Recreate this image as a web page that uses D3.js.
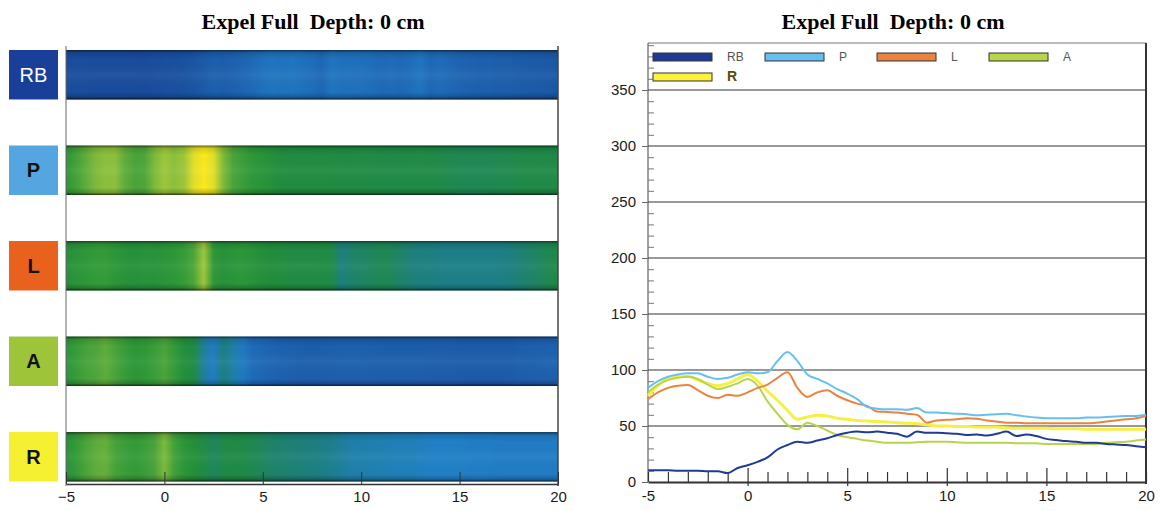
<!DOCTYPE html>
<html lang="en">
<head>
<meta charset="UTF-8">
<title>Expel Full Depth</title>
<script src="https://d3js.org/d3.v7.min.js"></script>
<style>
  body { margin: 0; background: #fff; }
  text { font-family: "Liberation Sans", Arial, sans-serif; }
  .title { font-family: "Liberation Serif", "Times New Roman", serif; font-weight: bold; font-size: 22px; white-space: pre; }
</style>
</head>
<body>
<script>
// position along the probe (cm) and the five readings
const xs = [-5, -4.5, -4, -3.5, -3, -2.5, -2, -1.5, -1, -0.5, 0, 0.5, 1, 1.5, 2, 2.5, 3, 3.5, 4, 4.5,
            5, 5.5, 6, 6.5, 7, 7.5, 8, 8.5, 9, 9.5, 10, 10.5, 11, 11.5, 12, 12.5, 13, 13.5, 14, 14.5,
            15, 15.5, 16, 16.5, 17, 17.5, 18, 18.5, 19, 19.5, 20];
const rb = [10.5, 10.5, 10.5, 10, 10, 10, 9.5, 9.5, 8, 12.5, 15, 18, 22, 29, 33, 36, 35, 37, 39, 42,
            44, 45, 44.5, 45, 44, 43, 40.5, 45, 44, 44, 43.5, 43, 42, 42.5, 41.5, 43, 45, 41, 42.5, 41,
            38.5, 37.5, 36.5, 36, 35, 35, 34, 33.5, 33, 32, 31];
const p = [84, 90, 94, 96, 97, 97, 94, 92, 93, 96, 98, 97, 98, 108, 116, 108, 96, 92, 88, 83,
           79, 74, 67, 65.5, 65, 65, 64.5, 66, 62, 62, 61.5, 61, 60.5, 59.5, 60, 60.5, 61, 59.5, 58.5, 57.5,
           57, 57, 57, 57, 57.5, 57.5, 58, 58.5, 59, 59, 60];
const l = [74, 80, 84, 86, 86.5, 82, 77, 75, 78, 77, 80, 84, 87, 93, 98, 84, 76, 80, 82, 77,
           73, 70, 68, 63, 62.5, 62, 61, 60, 53, 55, 55.5, 56, 57, 56.5, 55, 54, 53, 53, 52.5, 52.5,
           52.5, 52.5, 52.5, 52.5, 52.5, 53, 54, 55, 56, 57, 59];
const a = [80, 87, 91, 93, 94, 92, 87, 83, 85, 88, 92, 86, 72, 61, 51, 47, 53, 50, 46, 42,
           40, 38.5, 37, 36, 35, 35, 35, 35.5, 36, 36, 36, 35.5, 35, 35, 35, 35, 35, 34.5, 34.5, 34.5,
           34, 34, 34, 34, 34, 34, 35, 35.5, 36, 37, 38];
const r = [77, 86, 92, 94, 94.5, 91, 88, 86, 88, 92, 96, 90, 81, 73, 64, 56, 58, 59.5, 59, 57,
           56, 55, 54.5, 54, 53.5, 53, 52.5, 52, 51, 50, 50, 49.5, 49.5, 49, 49, 49, 48.5, 48, 48, 48,
           48, 47.5, 47.5, 47.5, 47, 47, 47, 47, 47, 47, 47];
const names = ["RB", "P", "L", "A", "R"];
const xTicks = [-5, 0, 5, 10, 15, 20];
const yTicks = [0, 50, 100, 150, 200, 250, 300, 350];

const seriesData = { RB: rb, P: p, L: l, A: a, R: r };
const labelFill = { RB: "#1a3f98", P: "#55a6e0", L: "#e8621e", A: "#9ec53a", R: "#f6f032" };
const labelText = { RB: "#fff", P: "#111", L: "#111", A: "#111", R: "#111" };
const lineColor = { RB: "#1f3c94", P: "#66c0ef", L: "#e8843f", A: "#b8d54a", R: "#f6ef44" };

// value -> colour used for the strips
const heat = d3.scaleLinear()
    .domain([0, 30, 42, 48, 53, 58, 70, 85, 93, 97, 100, 115])
    .range(["#18489a", "#1a55a3", "#1e6ab8", "#2080c6", "#1c7f80", "#1f8a48", "#218d3c",
            "#2e9938", "#4ea63a", "#8cc03c", "#c2d63a", "#fce81a"])
    .clamp(true);

const svg = d3.select("body").append("svg")
    .attr("width", 1161).attr("height", 511);
const defs = svg.append("defs");

// ---------- left panel: strips ----------
const xL = d3.scaleLinear().domain([-5, 20]).range([66, 558]);
const yB = d3.scaleBand().domain(names).range([50, 481.5]).paddingInner(0.482);

svg.append("text").attr("class", "title")
    .attr("x", 313).attr("y", 29).attr("text-anchor", "middle")
    .text("Expel Full  Depth: 0 cm");

// shading so each strip looks like a tube with dark edges
const shade = defs.append("linearGradient").attr("id", "shade")
    .attr("x1", 0).attr("x2", 0).attr("y1", 0).attr("y2", 1);
[[0, "#000", 0.55], [0.06, "#000", 0.12], [0.2, "#000", 0], [0.5, "#fff", 0.05],
 [0.85, "#000", 0], [0.95, "#000", 0.2], [1, "#000", 0.7]].forEach(s => {
    shade.append("stop").attr("offset", s[0]).attr("stop-color", s[1]).attr("stop-opacity", s[2]);
});

names.forEach(n => {
    const g = defs.append("linearGradient").attr("id", "grad" + n)
        .attr("gradientUnits", "userSpaceOnUse")
        .attr("x1", xL(-5)).attr("x2", xL(20)).attr("y1", 0).attr("y2", 0);
    xs.forEach((x, i) => {
        g.append("stop")
            .attr("offset", (xL(x) - xL(-5)) / (xL(20) - xL(-5)))
            .attr("stop-color", heat(seriesData[n][i]));
    });
});

const strips = svg.append("g");
strips.selectAll("rect.strip").data(names).enter().append("rect")
    .attr("class", "strip")
    .attr("x", xL(-5)).attr("y", d => yB(d))
    .attr("width", xL(20) - xL(-5)).attr("height", yB.bandwidth())
    .attr("fill", d => "url(#grad" + d + ")");
strips.selectAll("rect.shade").data(names).enter().append("rect")
    .attr("class", "shade")
    .attr("x", xL(-5)).attr("y", d => yB(d))
    .attr("width", xL(20) - xL(-5)).attr("height", yB.bandwidth())
    .attr("fill", "url(#shade)");

// label boxes
const lab = svg.append("g").selectAll("g").data(names).enter().append("g");
lab.append("rect")
    .attr("x", 9).attr("y", d => yB(d)).attr("width", 49).attr("height", yB.bandwidth())
    .attr("fill", d => labelFill[d]);
lab.append("text")
    .attr("x", 33.5).attr("y", d => yB(d) + yB.bandwidth() / 2 + 7)
    .attr("text-anchor", "middle")
    .attr("font-size", 20)
    .attr("font-weight", d => d == "RB" ? "normal" : "bold")
    .attr("fill", d => labelText[d])
    .text(d => d);

// frame + bottom axis
svg.append("line").attr("x1", xL(-5)).attr("x2", xL(-5)).attr("y1", 46).attr("y2", 486)
    .attr("stroke", "#666").attr("stroke-width", 1);
svg.append("line").attr("x1", xL(20)).attr("x2", xL(20)).attr("y1", 46).attr("y2", 486)
    .attr("stroke", "#444").attr("stroke-width", 1.5);
const axL = svg.append("g").attr("transform", "translate(0,484)")
    .call(d3.axisBottom(xL).tickValues(xTicks).tickSizeInner(-12).tickSizeOuter(0).tickPadding(7));
axL.select(".domain").attr("stroke", "#333").attr("stroke-width", 1.5);
axL.selectAll(".tick line").attr("stroke", "#333");
axL.selectAll("text").attr("font-size", 15).attr("fill", "#1a1a1a")
    .attr("font-family", "'Liberation Sans', Arial, sans-serif");

// ---------- right panel: lines ----------
const xR = d3.scaleLinear().domain([-5, 20]).range([648, 1146]);
const yR = d3.scaleLinear().domain([0, 350]).range([482, 90]);
const frameTop = 43;

svg.append("text").attr("class", "title")
    .attr("x", 893).attr("y", 29).attr("text-anchor", "middle")
    .text("Expel Full  Depth: 0 cm");

// grid lines
svg.append("g").selectAll("line").data(yTicks.filter(v => v > 0)).enter().append("line")
    .attr("x1", xR(-5)).attr("x2", xR(20))
    .attr("y1", d => yR(d)).attr("y2", d => yR(d))
    .attr("stroke", "#333").attr("stroke-width", 1);

// frame
svg.append("line").attr("x1", xR(-5)).attr("x2", xR(20)).attr("y1", frameTop).attr("y2", frameTop)
    .attr("stroke", "#777").attr("stroke-width", 1);
svg.append("line").attr("x1", xR(20)).attr("x2", xR(20)).attr("y1", frameTop).attr("y2", yR(0) + 2)
    .attr("stroke", "#333").attr("stroke-width", 2);

// y axis: labels with short outer ticks, minor ticks inside
const ay = svg.append("g").attr("transform", "translate(" + xR(-5) + ",0)")
    .call(d3.axisLeft(yR).tickValues(yTicks).tickSize(6).tickPadding(6));
ay.select(".domain").attr("stroke", "#444").attr("d", "M0," + frameTop + "V" + yR(0));
ay.selectAll(".tick line").attr("stroke", "#666");
ay.selectAll("text").attr("font-size", 15).attr("fill", "#1a1a1a")
    .attr("font-family", "'Liberation Sans', Arial, sans-serif");
const ayMinor = svg.append("g").attr("transform", "translate(" + xR(-5) + ",0)")
    .call(d3.axisRight(yR).tickValues(d3.range(10, 391, 10).filter(v => v % 50 != 0))
        .tickSize(6).tickFormat(""));
ayMinor.select(".domain").remove();
ayMinor.selectAll(".tick line").attr("stroke", "#777");

// x axis: ticks every 1 pointing up, labels every 5
const ax = svg.append("g").attr("transform", "translate(0," + yR(0) + ")")
    .call(d3.axisBottom(xR).tickValues(d3.range(-5, 21, 1)).tickSizeInner(-10).tickSizeOuter(0)
        .tickPadding(8).tickFormat(d => xTicks.includes(d) ? d : ""));
ax.select(".domain").attr("stroke", "#333").attr("stroke-width", 2);
ax.selectAll(".tick line").attr("stroke", "#333").attr("stroke-width", 1.2)
    .attr("y1", d => xTicks.includes(d) && d > -5 && d < 20 ? 4 : 0)
    .attr("y2", d => xTicks.includes(d) && d > -5 && d < 20 ? -14 : -10);
ax.selectAll("text").attr("font-size", 15).attr("fill", "#1a1a1a")
    .attr("font-family", "'Liberation Sans', Arial, sans-serif");

// lines
const line = d3.line()
    .x((d, i) => xR(xs[i]))
    .y(d => yR(d))
    .curve(d3.curveMonotoneX);
const drawOrder = ["R", "A", "L", "P", "RB"];
svg.append("g").selectAll("path").data(drawOrder).enter().append("path")
    .attr("d", n => line(seriesData[n]))
    .attr("fill", "none")
    .attr("stroke", n => lineColor[n])
    .attr("stroke-width", n => n == "R" ? 3 : 2)
    .attr("stroke-linejoin", "round");

// legend
const leg = svg.append("g").selectAll("g").data(names).enter().append("g")
    .attr("transform", (d, i) => "translate(" + (653 + (i % 4) * 112) + "," + (53 + Math.floor(i / 4) * 20) + ")");
leg.append("rect").attr("width", 59).attr("height", 8)
    .attr("fill", d => d == "R" ? "#fdf23a" : lineColor[d])
    .attr("stroke", "#333").attr("stroke-width", 1);
leg.append("text").attr("x", 74).attr("y", 8)
    .attr("font-size", d => d == "R" ? 14 : 12)
    .attr("font-weight", d => d == "R" ? "bold" : "normal")
    .attr("fill", d => d == "R" ? "#5a4a10" : "#555")
    .text(d => d);
</script>
</body>
</html>
